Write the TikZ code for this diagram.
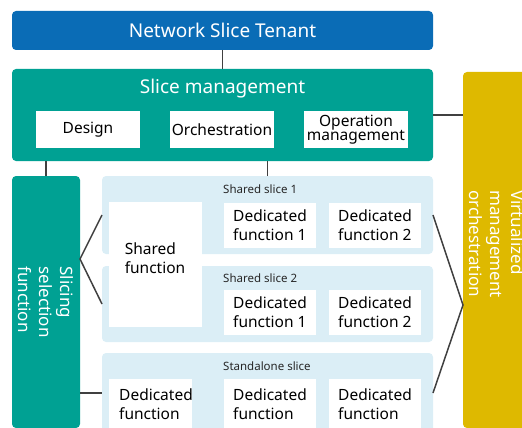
\documentclass[tikz,border=0pt]{standalone}
\usepackage{fontspec}
\setmainfont{Noto Sans}
\definecolor{tblue}{HTML}{0A6CB6}
\definecolor{tteal}{HTML}{00A193}
\definecolor{tyellow}{HTML}{DEB900}
\definecolor{tpanel}{HTML}{DBEEF6}
\definecolor{tline}{HTML}{404040}
\begin{document}
\begin{tikzpicture}[x=1pt,y=-1pt,
  base/.style={anchor=north west, inner sep=0pt, outer sep=0pt},
  bluebox/.style={base, fill=tblue, rounded corners=4pt, text=white, font=\fontsize{19}{22}\selectfont},
  tealbox/.style={base, fill=tteal, rounded corners=4pt},
  yellowbox/.style={base, fill=tyellow, rounded corners=4pt},
  panel/.style={base, fill=tpanel, rounded corners=4pt},
  wbox/.style={base, fill=white, align=center, text=black, font=\fontsize{15.5}{14}\selectfont},
  fbox/.style={inner sep=0pt, align=left, text=black, font=\fontsize{15.5}{19}\selectfont},
  whitebox/.style={base, fill=white},
  whitetitle/.style={inner sep=0pt, text=white, font=\fontsize{19}{22}\selectfont},
  vtext/.style={inner sep=0pt, text=white, rotate=-90, align=left, font=\fontsize{17}{21}\selectfont},
  ptitle/.style={anchor=west, inner sep=0pt, text=black!85, font=\fontsize{11.5}{13}\selectfont},
  conn/.style={draw=tline, line width=1.5pt}
]
\useasboundingbox (0,0) rectangle (522,428);
\clip (0,0) rectangle (522,428);

% top
\node[bluebox, minimum width=421, minimum height=39] (tenant) at (12,11) {Network Slice Tenant};
\node[tealbox, minimum width=421, minimum height=92] (sm) at (12,69) {};
\node[whitetitle] (smt) at (222.5,89) {Slice management};
\node[wbox, minimum width=104, minimum height=37] (design) at (36,111) {Design};
\node[wbox, minimum width=104, minimum height=37] (orch) at (170,111) {Orchestration};
\node[wbox, minimum width=104, minimum height=37] (opm) at (304,111) {Operation\\management};

% side boxes
\node[tealbox, minimum width=68, minimum height=252] (ssf) at (12,176) {};
\node[vtext] (ssft) at (46,302) {Slicing\\selection\\function};
\node[yellowbox, minimum width=68, minimum height=356] (vmo) at (463,72) {};
\node[vtext] (vmot) at (497,244) {Virtualized\\management\\orchestration};

% panels
\node[panel, minimum width=331, minimum height=78] (ss1) at (102,176) {};
\node[panel, minimum width=331, minimum height=76] (ss2) at (102,266) {};
\node[panel, minimum width=331, minimum height=80] (sa) at (102,353) {};
\node[ptitle] (ss1t) at (223,189) {Shared slice 1};
\node[ptitle] (ss2t) at (223,278) {Shared slice 2};
\node[ptitle] (sat) at (223,366) {Standalone slice};

% functions
\node[whitebox, minimum width=93, minimum height=125] (shf) at (109,202) {};
\node[fbox] (shft) at (155,258) {Shared\\function};
\node[whitebox, minimum width=92, minimum height=45] (d11b) at (224,203) {};
\node[fbox] (d11t) at (270,225.5) {Dedicated\\function 1};
\node[whitebox, minimum width=92, minimum height=45] (d12b) at (329,203) {};
\node[fbox] (d12t) at (375,225.5) {Dedicated\\function 2};
\node[whitebox, minimum width=92, minimum height=45] (d21b) at (224,290) {};
\node[fbox] (d21t) at (270,312.5) {Dedicated\\function 1};
\node[whitebox, minimum width=92, minimum height=45] (d22b) at (329,290) {};
\node[fbox] (d22t) at (375,312.5) {Dedicated\\function 2};
\node[whitebox, minimum width=83, minimum height=52] (s1b) at (109,379) {};
\node[fbox] (s1t) at (156,404) {Dedicated\\function};
\node[whitebox, minimum width=92, minimum height=52] (s2b) at (224,379) {};
\node[fbox] (s2t) at (270,404) {Dedicated\\function};
\node[whitebox, minimum width=92, minimum height=52] (s3b) at (329,379) {};
\node[fbox] (s3t) at (375,404) {Dedicated\\function};

% connectors
\coordinate (apexL) at (80,259);
\coordinate (apexR) at (463,305);
\draw[conn] (tenant.south) -- (sm.north);
\draw[conn] (sm.east) -- (vmo.west |- sm.east);
\draw[conn] (ssf.north) -- (ssf.north |- sm.south);
\draw[conn] (ss1.north) -- (ss1.north |- sm.south);
\draw[conn] (ss1.west) -- (apexL) -- (ss2.west);
\draw[conn] (ssf.east |- sa.west) -- (sa.west);
\draw[conn] (ss1.east) -- (apexR) -- (sa.east);
\end{tikzpicture}
\end{document}
